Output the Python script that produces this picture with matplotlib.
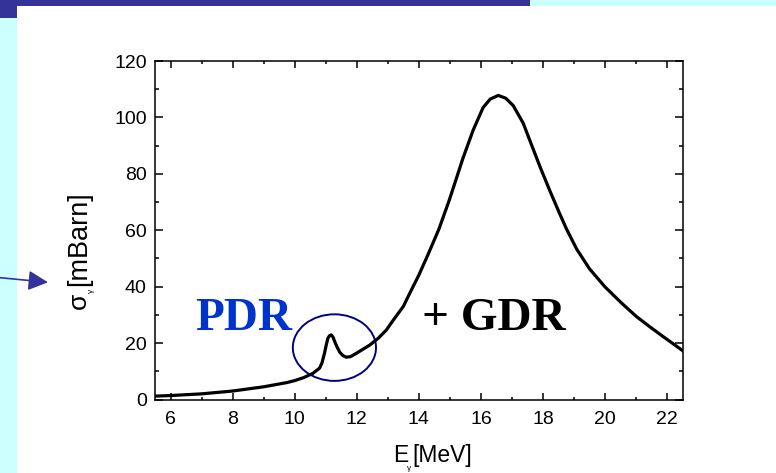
import matplotlib
matplotlib.use("Agg")
import matplotlib.pyplot as plt
from matplotlib.patches import Rectangle, Ellipse
from matplotlib.ticker import MultipleLocator

# photoabsorption cross section (E in MeV, sigma in mb)
energy = [5.5, 6.0, 7.0, 8.0, 9.0, 9.75, 10.0, 10.3, 10.59, 10.8, 10.88, 10.96,
          11.02, 11.07, 11.12, 11.18, 11.24, 11.29, 11.37, 11.45, 11.55, 11.66,
          11.8, 11.99, 12.42, 12.7, 12.95, 13.2, 13.5, 13.7, 14.0, 14.3, 14.65,
          14.99, 15.42, 15.75, 16.07, 16.3, 16.56, 16.8, 17.04, 17.36, 17.57,
          17.9, 18.22, 18.5, 18.75, 19.08, 19.5, 19.99, 20.5, 21.01, 21.45,
          21.87, 22.2, 22.5]
sigma = [1.2, 1.4, 2.0, 3.0, 4.5, 6.0, 6.7, 7.8, 9.3, 11.1, 13.0, 16.4,
         19.5, 21.7, 22.6, 22.9, 22.0, 20.5, 18.5, 16.8, 15.6, 15.0,
         15.2, 16.4, 19.3, 21.8, 24.6, 28.5, 33.0, 37.5, 44.1, 51.5, 60.5,
         71.0, 85.5, 95.5, 103.5, 106.5, 107.8, 106.8, 104.2, 98.0, 92.0,
         82.6, 74.0, 66.8, 60.6, 53.4, 46.3, 40.0, 34.5, 29.4, 25.7,
         22.3, 19.7, 17.3]

x_ticks = [6, 8, 10, 12, 14, 16, 18, 20, 22]
y_ticks = [0, 20, 40, 60, 80, 100, 120]

W, H = 776, 473
fig = plt.figure(figsize=(W / 100, H / 100), dpi=100, facecolor="white")

# slide decoration behind the plot
navy = "#333399"
cyan = "#ccffff"
def px_rect(x0, y0, x1, y1, color):
    # pixel box measured from the top-left corner
    fig.add_artist(Rectangle((x0 / W, 1 - y1 / H), (x1 - x0) / W, (y1 - y0) / H,
                             transform=fig.transFigure, color=color, lw=0, zorder=0))
px_rect(0, 0, 530, 6, navy)
px_rect(0, 0, 17, 18, navy)
px_rect(530, 0, W, 6, cyan)
px_rect(0, 18, 17, H, cyan)

def ftext(x, y, s, **kw):
    # text placed by pixel position from the top-left corner
    kw.setdefault("family", "Liberation Sans")
    fig.text(x / W, 1 - y / H, s, **kw)

ax = fig.add_axes([155 / W, 1 - 399.5 / H, (682.7 - 155) / W, (399.5 - 61) / H])
ax.plot(energy, sigma, color="black", lw=2.3, solid_joinstyle="round")

ax.set_xlim(5.5, 22.5)
ax.set_ylim(0, 120)
ax.set_xticks(x_ticks)
ax.set_yticks(y_ticks)
ax.xaxis.set_minor_locator(MultipleLocator(1))
ax.yaxis.set_minor_locator(MultipleLocator(10))
ax.tick_params(which="both", direction="in", top=True, right=True,
               labelsize=14, width=1.1, colors="black")
ax.tick_params(axis="x", which="major", length=5, pad=8)
ax.tick_params(axis="x", which="minor", length=2.5)
ax.tick_params(axis="y", which="major", length=6, pad=6)
ax.tick_params(axis="y", which="minor", length=3)
for lab in ax.get_xticklabels() + ax.get_yticklabels():
    lab.set_family("Liberation Sans")
for sp in ax.spines.values():
    sp.set_linewidth(1.1)

# PDR circle and labels
ax.add_patch(Ellipse((11.28, 18.4), 2.68, 23.6, fill=False, ec="#000080", lw=1.4))
ax.text(6.79, 24.6, "PDR", color="#0033cc", fontsize=34, fontweight="bold",
        family="Liberation Serif", va="baseline")
ax.text(14.1, 24.6, "+ GDR", color="black", fontsize=34, fontweight="bold",
        family="Liberation Serif", va="baseline")

# axis titles with the small gamma subscript
ftext(79, 300.5, "σ", rotation=90, fontsize=19, ha="center", va="center")
ftext(91, 290.5, "γ", rotation=90, fontsize=6, ha="center", va="center")
ftext(79, 239, "[mBarn]", rotation=90, fontsize=19.5, ha="center", va="center")
ftext(393, 462, "E", fontsize=16.5, ha="left", va="baseline")
ftext(409, 468, "γ", fontsize=6, ha="center", va="center")
ftext(412, 462, "[MeV]", fontsize=16.5, ha="left", va="baseline")

# arrow coming in from the left edge of the slide
fig.add_artist(plt.Annotation("", xy=(48 / W, 190.7 / H), xytext=(0, 195.3 / H),
                              xycoords="figure fraction", textcoords="figure fraction",
                              arrowprops=dict(arrowstyle="-|>,head_length=0.8,head_width=0.4",
                                              color=navy, lw=1.2, mutation_scale=15,
                                              shrinkA=0, shrinkB=0)))

fig.savefig("out.png", dpi=100, facecolor="white")
